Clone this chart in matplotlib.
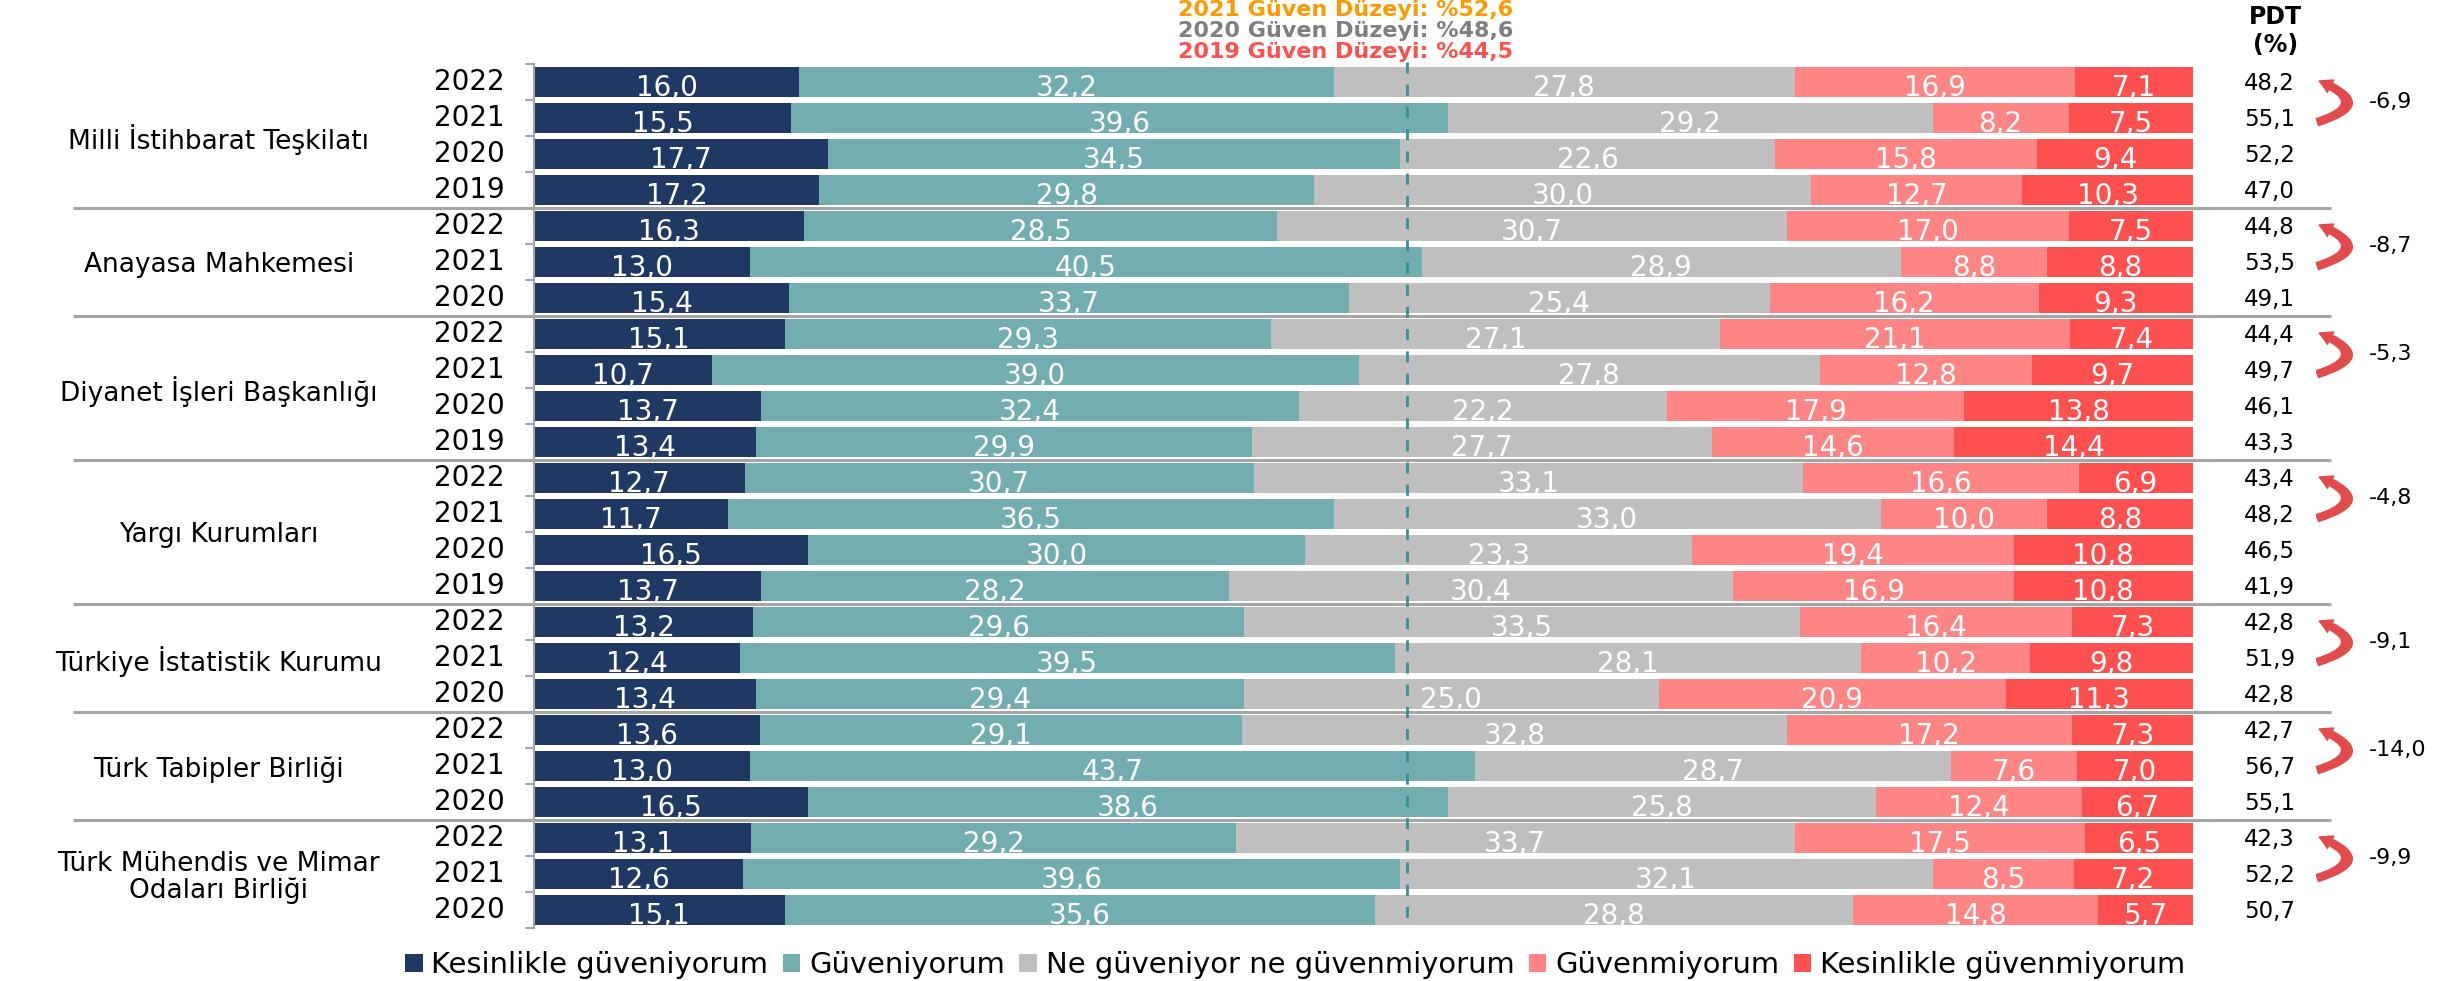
import numpy as np
import matplotlib
matplotlib.use("Agg")
import matplotlib.pyplot as plt
from matplotlib.patches import Patch

plt.rcParams['font.family'] = ['DejaVu Sans']

# ---------------- data ----------------
groups = ["Milli İstihbarat Teşkilatı", "Anayasa Mahkemesi", "Diyanet İşleri Başkanlığı",
          "Yargı Kurumları", "Türkiye İstatistik Kurumu", "Türk Tabipler Birliği",
          "Türk Mühendis ve Mimar\nOdaları Birliği"]
group_years = [[2022, 2021, 2020, 2019], [2022, 2021, 2020], [2022, 2021, 2020, 2019],
               [2022, 2021, 2020, 2019], [2022, 2021, 2020], [2022, 2021, 2020],
               [2022, 2021, 2020]]

series_names = ["Kesinlikle güveniyorum", "Güveniyorum", "Ne güveniyor ne güvenmiyorum",
                "Güvenmiyorum", "Kesinlikle güvenmiyorum"]
series_colors = ["#203864", "#72ADB0", "#BFBFBF", "#FF8585", "#FF5050"]

kesinlikle_guveniyorum = [16.0, 15.5, 17.7, 17.2, 16.3, 13.0, 15.4, 15.1, 10.7, 13.7, 13.4,
                          12.7, 11.7, 16.5, 13.7, 13.2, 12.4, 13.4, 13.6, 13.0, 16.5,
                          13.1, 12.6, 15.1]
guveniyorum = [32.2, 39.6, 34.5, 29.8, 28.5, 40.5, 33.7, 29.3, 39.0, 32.4, 29.9,
               30.7, 36.5, 30.0, 28.2, 29.6, 39.5, 29.4, 29.1, 43.7, 38.6,
               29.2, 39.6, 35.6]
ne_guveniyor_ne_guvenmiyorum = [27.8, 29.2, 22.6, 30.0, 30.7, 28.9, 25.4, 27.1, 27.8, 22.2, 27.7,
                                33.1, 33.0, 23.3, 30.4, 33.5, 28.1, 25.0, 32.8, 28.7, 25.8,
                                33.7, 32.1, 28.8]
guvenmiyorum = [16.9, 8.2, 15.8, 12.7, 17.0, 8.8, 16.2, 21.1, 12.8, 17.9, 14.6,
                16.6, 10.0, 19.4, 16.9, 16.4, 10.2, 20.9, 17.2, 7.6, 12.4,
                17.5, 8.5, 14.8]
kesinlikle_guvenmiyorum = [7.1, 7.5, 9.4, 10.3, 7.5, 8.8, 9.3, 7.4, 9.7, 13.8, 14.4,
                           6.9, 8.8, 10.8, 10.8, 7.3, 9.8, 11.3, 7.3, 7.0, 6.7,
                           6.5, 7.2, 5.7]
pdt = [48.2, 55.1, 52.2, 47.0, 44.8, 53.5, 49.1, 44.4, 49.7, 46.1, 43.3,
       43.4, 48.2, 46.5, 41.9, 42.8, 51.9, 42.8, 42.7, 56.7, 55.1,
       42.3, 52.2, 50.7]
pdt_change = [-6.9, -8.7, -5.3, -4.8, -9.1, -14.0, -9.9]

guven_2021 = 52.6
guven_2020 = 48.6
guven_2019 = 44.5

series = [kesinlikle_guveniyorum, guveniyorum, ne_guveniyor_ne_guvenmiyorum,
          guvenmiyorum, kesinlikle_guvenmiyorum]


def fmt(v):
    return f"{v:.1f}".replace(".", ",")


# ---------------- figure ----------------
fig = plt.figure(figsize=(24.53, 9.81), dpi=100)
ax = fig.add_axes([0.2177, 0.0543, 0.6763, 0.8807])

n_rows = sum(len(y) for y in group_years)
rows = np.arange(n_rows)
bar_h = 0.83

left = np.zeros(n_rows)
for vals, col in zip(series, series_colors):
    vals = np.array(vals)
    ax.barh(rows, vals, left=left, height=bar_h, color=col, edgecolor='none', zorder=2)
    for r, v, l in zip(rows, vals, left):
        ax.text(l + v / 2, r + bar_h / 2 - 0.02, fmt(v), ha='center', va='baseline',
                color='white', fontsize=20, zorder=4)
    left += vals

ax.set_xlim(0, 100)
ax.set_ylim(n_rows - 0.5, -0.5)

# spines / ticks
for s in ['top', 'right', 'bottom']:
    ax.spines[s].set_visible(False)
ax.spines['left'].set_color('#A6A6A6')
ax.spines['left'].set_linewidth(1.5)
ax.set_xticks([])
ax.set_yticks(np.arange(-0.5, n_rows, 1.0))
ax.set_yticklabels([])
ax.tick_params(axis='y', length=6.5, width=1.5, color='#A6A6A6', direction='out')

# year labels, group labels, separators, PDT
r = 0
for gi, (g, yrs) in enumerate(zip(groups, group_years)):
    start = r
    for y in yrs:
        ax.text(-1.75, r, str(y), ha='right', va='center', fontsize=20, color='black')
        ax.text(104.6, r + 0.05, fmt(pdt[r]), ha='center', va='center', fontsize=16.5,
                color='black', clip_on=False)
        r += 1
    center = (start + r - 1) / 2
    ax.text(-19.0, center + 0.1, g, ha='center', va='center', fontsize=19,
            color='black', linespacing=1.05, clip_on=False)
    if gi < len(groups) - 1:
        ax.plot([-27.8, 108.3], [r - 0.5, r - 0.5], color='#A6A6A6', lw=2.2,
                clip_on=False, zorder=5, solid_capstyle='butt')
    # curved arrow + change value
    ax.annotate('', xy=(107.6, start - 0.02), xytext=(107.5, start + 1.12),
                arrowprops=dict(arrowstyle='simple,head_width=0.5,head_length=0.45,tail_width=0.26',
                                connectionstyle='arc3,rad=1.4', color='#E24B4B',
                                shrinkA=0, shrinkB=0, mutation_scale=20),
                annotation_clip=False)
    ax.text(110.6, start + 0.55, fmt(pdt_change[gi]), ha='left', va='center',
            fontsize=16, color='black', clip_on=False)

# dashed reference line
ax.plot([guven_2021, guven_2021], [-0.55, n_rows - 0.5], color='#3A8E94', lw=2,
        dashes=(4, 4), zorder=6, clip_on=False)

# headers
ax.text(48.9, -1.99, f"2021 Güven Düzeyi: %{fmt(guven_2021)}", ha='center', va='center',
        fontsize=16, fontweight='bold', color='#FF9900', clip_on=False)
ax.text(48.9, -1.40, f"2020 Güven Düzeyi: %{fmt(guven_2020)}", ha='center', va='center',
        fontsize=16, fontweight='bold', color='#7F7F7F', clip_on=False)
ax.text(48.9, -0.84, f"2019 Güven Düzeyi: %{fmt(guven_2019)}", ha='center', va='center',
        fontsize=16, fontweight='bold', color='#FF5050', clip_on=False)
ax.text(105.0, -1.8, "PDT", ha='center', va='center', fontsize=17, fontweight='bold',
        clip_on=False)
ax.text(105.0, -1.02, "(%)", ha='center', va='center', fontsize=17, fontweight='bold',
        clip_on=False)

# legend
handles = [Patch(facecolor=c, edgecolor='none', label=n) for n, c in zip(series_names, series_colors)]
fig.legend(handles=handles, loc='center', bbox_to_anchor=(0.528, 0.0163), ncol=5,
           frameon=False, fontsize=20.9, handlelength=0.6, handleheight=0.6,
           handletextpad=0.3, columnspacing=0.5, borderaxespad=0, borderpad=0)

fig.savefig("out.png", dpi=100)
